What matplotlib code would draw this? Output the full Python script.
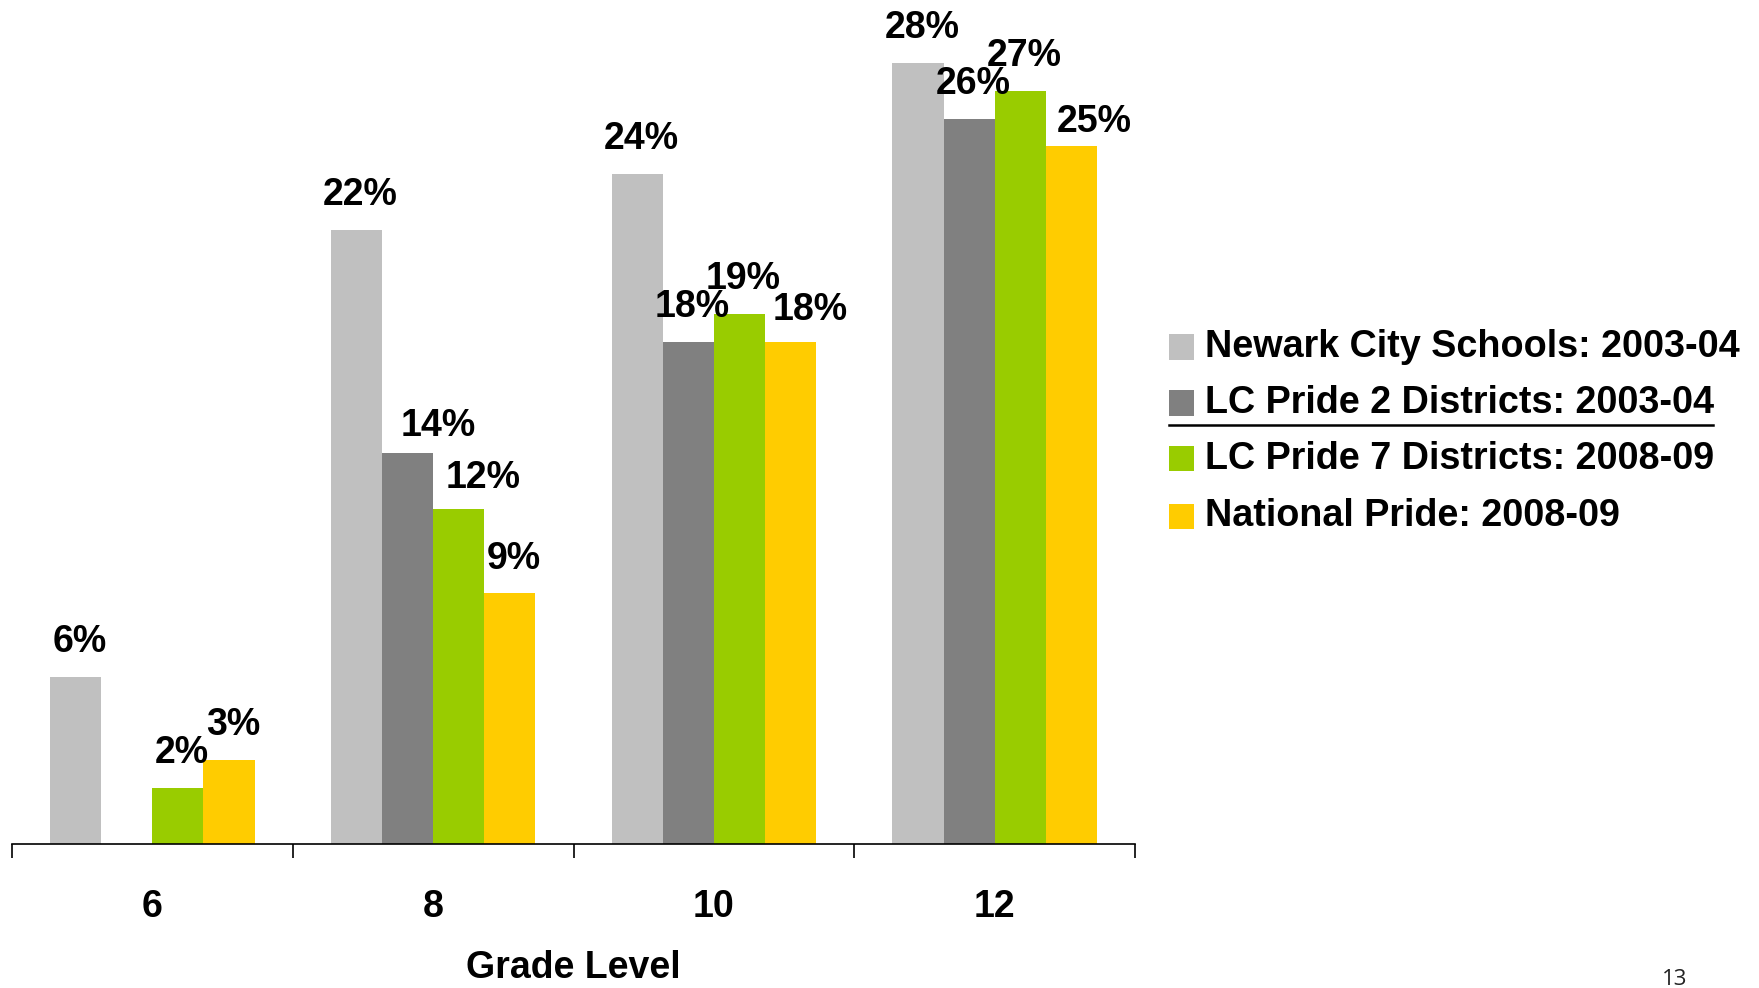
import matplotlib
matplotlib.use("Agg")
import matplotlib.pyplot as plt
import numpy as np
from matplotlib.patches import Rectangle
from matplotlib.lines import Line2D

plt.rcParams['font.family'] = ['Liberation Sans', 'DejaVu Sans']

grades = ["6", "8", "10", "12"]
series_names = ["Newark City Schools: 2003-04", "LC Pride 2 Districts: 2003-04",
                "LC Pride 7 Districts: 2008-09", "National Pride: 2008-09"]
newark = [6, 22, 24, 28]
lc2 = [np.nan, 14, 18, 26]
lc7 = [2, 12, 19, 27]
national = [3, 9, 18, 25]
colors = ["#C0C0C0", "#808080", "#99CC00", "#FFCC00"]

# per-label nudges (pixels) to mimic the manual label placement
nudges = {(1, 1): (27, -8), (2, 1): (20, -4), (3, 1): (0, -1),
          (3, 2): (16, -3), (3, 3): (19, -11)}

W, H = 1759, 988
fig = plt.figure(figsize=(W / 100, H / 100), dpi=100)
ax = fig.add_axes([12 / W, (H - 844) / H, (1135 - 12) / W, 844 / H])

x = np.arange(len(grades))
bw = 0.182
all_series = [newark, lc2, lc7, national]
for si, vals in enumerate(all_series):
    pos = x + (si - 1.5) * bw
    ax.bar(pos, vals, width=bw, color=colors[si], linewidth=0)
    for gi, v in enumerate(vals):
        if np.isnan(v):
            continue
        dx, dy = nudges.get((si, gi), (0, 0))
        ax.annotate(f"{v:.0f}%", (pos[gi], v), xytext=(4 + dx, 35 + dy),
                    textcoords="offset pixels", ha="center", va="center",
                    fontsize=27, fontweight="bold", color="black")

ax.set_xlim(-0.5, len(grades) - 0.5)
ax.set_ylim(0, 844 / 27.9)
for s in ["left", "right", "top"]:
    ax.spines[s].set_visible(False)
ax.spines["bottom"].set_linewidth(1.2)
ax.set_yticks([])
ax.set_xticks(x)
ax.set_xticklabels(grades, fontsize=27, fontweight="bold")
ax.tick_params(axis="x", which="major", length=0, pad=32.5)
ax.set_xticks(np.arange(len(grades) + 1) - 0.5, minor=True)
ax.tick_params(axis="x", which="minor", length=10, width=1.2, direction="out")
ax.set_xlabel("Grade Level", fontsize=27, fontweight="bold", va="bottom")
ax.xaxis.set_label_coords(0.5, -142 / 844)

# legend drawn manually
rows = [347, 403, 459, 516]
for name, c, ry in zip(series_names, colors, rows):
    fig.patches.append(Rectangle((1169 / W, (H - ry - 12.5) / H), 25 / W, 25 / H,
                                 transform=fig.transFigure, color=c, lw=0))
    fig.text(1205 / W, (H - ry) / H, name, fontsize=27.2, fontweight="bold",
             va="center", ha="left")
fig.lines.append(Line2D([1169 / W, 1713 / W], [(H - 425) / H] * 2,
                        transform=fig.transFigure, color="black", lw=1.8))

fig.text(1675 / W, (H - 979) / H, "13", fontsize=16, family="Open Sans",
         ha="center", va="center", color="#222222")

fig.savefig("out.png", dpi=100)
